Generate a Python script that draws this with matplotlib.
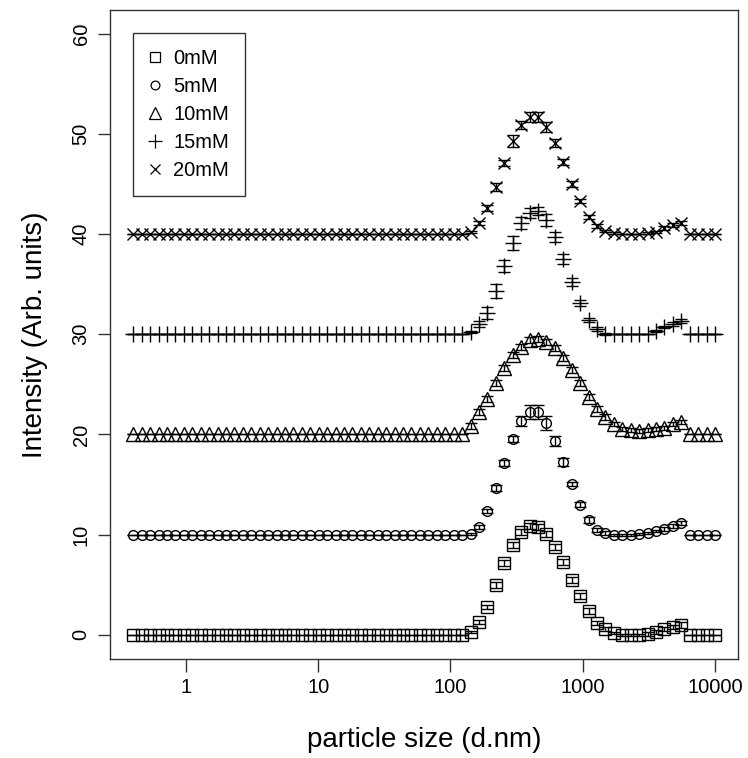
# DLS size distributions at different concentrations (offset by 10 units each)

import numpy as np
import matplotlib
matplotlib.use("Agg")
import matplotlib.pyplot as plt
from matplotlib.lines import Line2D
from matplotlib.ticker import NullLocator

plt.rcParams['font.family'] = ['Liberation Sans', 'DejaVu Sans']

# -------------------------------
# Data
# -------------------------------
sizes = [0.4, 0.4632, 0.5365, 0.6213, 0.7195, 0.8332, 0.9649, 1.117, 1.294, 1.499,
         1.736, 2.01, 2.328, 2.696, 3.122, 3.615, 4.187, 4.849, 5.615, 6.503,
         7.531, 8.721, 10.1, 11.7, 13.54, 15.69, 18.17, 21.04, 24.36, 28.21,
         32.67, 37.84, 43.82, 50.75, 58.77, 68.06, 78.82, 91.28, 105.7, 122.4,
         141.8, 164.2, 190.1, 220.2, 255.0, 295.3, 342.0, 396.1, 458.7, 531.2,
         615.1, 712.4, 825.0, 955.4, 1106, 1281, 1484, 1718, 1990, 2305,
         2669, 3091, 3580, 4145, 4801, 5560, 6439, 7456, 8635, 10000]

labels = ["0mM", "5mM", "10mM", "15mM", "20mM"]

int_0mM = [0.0] * 40 + [0.3, 1.3, 2.8, 5.0, 7.2, 9.0, 10.3, 10.9, 10.8, 10.1,
                        8.8, 7.3, 5.5, 3.9, 2.4, 1.2, 0.6, 0.2, 0.0, 0.0,
                        0.0, 0.1, 0.3, 0.6, 0.8, 1.0] + [0.0] * 4
int_5mM = [10.0] * 40 + [10.1, 10.8, 12.4, 14.6, 17.1, 19.5, 21.3, 22.2, 22.2, 21.1,
                         19.3, 17.2, 15.0, 13.0, 11.5, 10.5, 10.2, 10.0, 10.0, 10.0,
                         10.1, 10.2, 10.35, 10.6, 10.9, 11.2] + [10.0] * 4
int_10mM = [20.0] * 40 + [20.8, 22.2, 23.5, 25.1, 26.6, 27.9, 28.7, 29.4, 29.5, 29.2,
                          28.6, 27.6, 26.4, 25.1, 23.7, 22.5, 21.7, 21.0, 20.5, 20.4,
                          20.3, 20.4, 20.5, 20.6, 21.0, 21.2] + [20.0] * 4
int_15mM = [30.0] * 40 + [30.2, 31.0, 32.1, 34.3, 36.8, 39.1, 41.1, 42.1, 42.3, 41.4,
                          39.7, 37.5, 35.2, 33.1, 31.4, 30.5, 30.0, 30.0, 30.0, 30.0,
                          30.0, 30.0, 30.3, 30.7, 31.0, 31.3] + [30.0] * 4
int_20mM = [40.0] * 40 + [40.2, 41.1, 42.6, 44.7, 47.1, 49.3, 50.9, 51.7, 51.7, 50.7,
                          49.1, 47.2, 45.0, 43.3, 41.7, 40.8, 40.3, 40.1, 40.0, 40.0,
                          40.0, 40.1, 40.2, 40.6, 40.9, 41.1] + [40.0] * 4

# standard deviations (error bars)
err_0mM = [0.0] * 40 + [0.1, 0.2, 0.2, 0.3, 0.3, 0.3, 0.3, 0.3, 0.3, 0.3,
                        0.3, 0.3, 0.3, 0.3, 0.3, 0.2, 0.2, 0.1, 0.1, 0.1,
                        0.1, 0.2, 0.2, 0.2, 0.2, 0.3] + [0.0] * 4
err_5mM = [0.0] * 40 + [0.1, 0.2, 0.2, 0.3, 0.3, 0.3, 0.5, 0.7, 0.7, 0.7,
                        0.5, 0.4, 0.2, 0.2, 0.3, 0.2, 0.2, 0.1, 0.1, 0.1,
                        0.1, 0.1, 0.1, 0.2, 0.2, 0.2] + [0.0] * 4
err_10mM = [0.0] * 40 + [0.3, 0.3, 0.3, 0.3, 0.3, 0.3, 0.3, 0.3, 0.3, 0.3,
                         0.3, 0.3, 0.3, 0.3, 0.3, 0.3, 0.3, 0.2, 0.2, 0.2,
                         0.2, 0.2, 0.2, 0.2, 0.2, 0.2] + [0.0] * 4
err_15mM = [0.0] * 40 + [0.1, 0.3, 0.6, 0.7, 0.6, 0.7, 0.6, 0.5, 0.4, 0.6,
                         0.5, 0.5, 0.4, 0.3, 0.2, 0.2, 0.1, 0.0, 0.0, 0.0,
                         0.0, 0.0, 0.1, 0.1, 0.2, 0.2] + [0.0] * 4
err_20mM = [0.0] * 40 + [0.1, 0.2, 0.3, 0.4, 0.3, 0.6, 0.4, 0.5, 0.5, 0.5,
                         0.4, 0.3, 0.3, 0.2, 0.2, 0.2, 0.1, 0.1, 0.0, 0.0,
                         0.0, 0.1, 0.1, 0.2, 0.2, 0.2] + [0.0] * 4

series = [
    (int_0mM, err_0mM, "s", 8.3),
    (int_5mM, err_5mM, "o", 7.0),
    (int_10mM, err_10mM, "^", 9.5),
    (int_15mM, err_15mM, "+", 11.5),
    (int_20mM, err_20mM, "x", 8.5),
]

# -------------------------------
# Plot
# -------------------------------
fig = plt.figure(figsize=(7.48, 7.58), dpi=100)
ax = fig.add_axes([0.147, 0.131, 0.840, 0.856])

for y, err, m, ms in series:
    ax.errorbar(sizes, y, yerr=err, fmt=m, ms=ms, mfc="none", mec="black",
                mew=1.0, ecolor="black", elinewidth=1.0, capsize=4,
                capthick=1.0, linestyle="none")

ax.set_xscale("log")
ax.set_xlim(10 ** -0.574, 10 ** 4.176)
ax.set_ylim(-2.4, 62.4)
ax.xaxis.set_minor_locator(NullLocator())
ax.set_xticks([1, 10, 100, 1000, 10000])
ax.set_xticklabels(["1", "10", "100", "1000", "10000"])
ax.set_yticks([0, 10, 20, 30, 40, 50, 60])
ax.set_yticklabels(["0", "10", "20", "30", "40", "50", "60"], rotation=90, va="center")
ax.tick_params(length=9, width=1.0, labelsize=14.5, pad=5, color="#333333")
for sp in ax.spines.values():
    sp.set_linewidth(1.0)
    sp.set_color("#333333")

ax.set_xlabel("particle size (d.nm)", fontsize=20)
ax.xaxis.set_label_coords(0.5, -0.125)
ax.xaxis.label.set_va("center")
ax.set_ylabel("Intensity (Arb. units)", fontsize=20)
ax.yaxis.set_label_coords(-0.119, 0.5)
ax.yaxis.label.set_va("center")

handles = [Line2D([], [], marker=m, ms=ms * 0.9, mfc="none", mec="black", mew=0.9,
                  linestyle="none") for _, _, m, ms in series]
leg = ax.legend(handles, labels, loc="upper left", bbox_to_anchor=(0.0366, 0.9646),
                borderaxespad=0, fontsize=14.5, frameon=True, fancybox=False,
                edgecolor="#333333", framealpha=1, borderpad=0.8,
                handlelength=0.6, handletextpad=0.6, labelspacing=0.45)
leg.get_frame().set_linewidth(1.0)

fig.savefig("out.png", dpi=100)
